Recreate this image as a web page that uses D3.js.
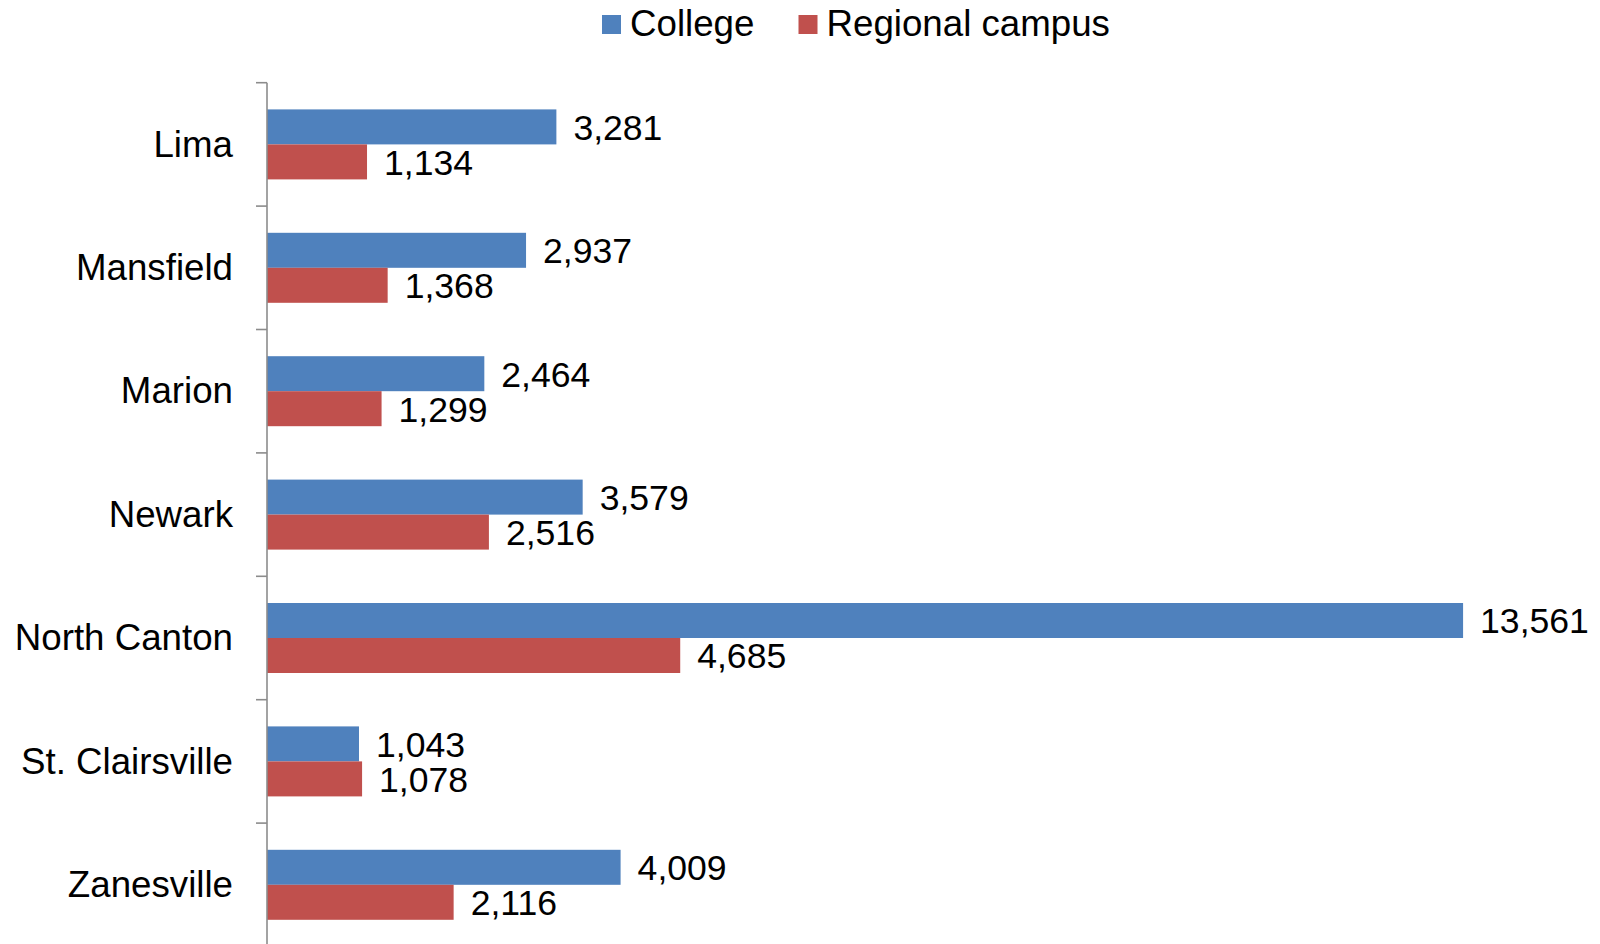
<!DOCTYPE html>
<html>
<head>
<meta charset="utf-8">
<script src="https://cdn.jsdelivr.net/npm/d3@7"></script>
<style>
  html, body { margin: 0; padding: 0; background: #fff; }
  svg { display: block; }
  text { font-family: "Liberation Sans", Arial, sans-serif; fill: #000; }
</style>
</head>
<body>
<svg id="chart" width="1600" height="944"></svg>
<script>
const categories = ["Lima", "Mansfield", "Marion", "Newark", "North Canton", "St. Clairsville", "Zanesville"];
const seriesNames = ["College", "Regional campus"];
const collegeValues = [3281, 2937, 2464, 3579, 13561, 1043, 4009];
const regionalValues = [1134, 1368, 1299, 2516, 4685, 1078, 2116];
const seriesColors = ["#4F81BD", "#C0504D"];

const svg = d3.select("#chart");
const axisX = 267;
const topY = 82.7;
const step = 123.4;

const x = d3.scaleLinear().domain([0, 15000]).range([axisX, axisX + 15000 * 0.0882]);
const y0 = d3.scaleBand().domain(categories).range([topY, topY + step * categories.length]).padding(0);
const y1 = d3.scaleBand().domain(seriesNames).range([0, y0.bandwidth()]).paddingInner(0).paddingOuter(0.763);

const seriesValues = [collegeValues, regionalValues];
const rows = categories.map((c, i) => ({ cat: c, vals: seriesNames.map((s, j) => ({ s, j, v: seriesValues[j][i] })) }));

const groups = svg.append("g").selectAll("g").data(rows).join("g")
  .attr("transform", d => `translate(0,${y0(d.cat)})`);

groups.selectAll("rect").data(d => d.vals).join("rect")
  .attr("x", x(0))
  .attr("y", d => y1(d.s))
  .attr("width", d => x(d.v) - x(0))
  .attr("height", y1.bandwidth())
  .attr("fill", d => seriesColors[d.j]);

groups.selectAll("text.val").data(d => d.vals).join("text")
  .attr("class", "val")
  .attr("x", d => x(d.v) + 17)
  .attr("y", d => y1(d.s) + y1.bandwidth() / 2 + 13)
  .attr("font-size", 35.6)
  .text(d => d3.format(",")(d.v));

// Axis
const axis = d3.axisLeft(y0).tickSize(0).tickPadding(34).tickFormat(d => d);
const axisG = svg.append("g").attr("transform", `translate(${axisX},0)`).call(axis);
axisG.select(".domain").remove();
axisG.selectAll(".tick text")
  .attr("font-size", 36.7)
  .attr("font-family", '"Liberation Sans", Arial, sans-serif')
  .attr("fill", "#000")
  .attr("dy", "0.33em");

svg.append("line")
  .attr("x1", axisX).attr("x2", axisX)
  .attr("y1", topY).attr("y2", topY + step * categories.length)
  .attr("stroke", "#8c8c8c").attr("stroke-width", 1.6);

const tickPositions = d3.range(categories.length + 1).map(i => topY + i * step);
svg.append("g").selectAll("line").data(tickPositions).join("line")
  .attr("x1", axisX - 11).attr("x2", axisX)
  .attr("y1", d => d).attr("y2", d => d)
  .attr("stroke", "#8c8c8c").attr("stroke-width", 1.6);

// Legend
const legendItems = [
  { name: seriesNames[0], color: seriesColors[0], x: 602 },
  { name: seriesNames[1], color: seriesColors[1], x: 798.5 }
];
const lg = svg.append("g").selectAll("g").data(legendItems).join("g")
  .attr("transform", d => `translate(${d.x},0)`);
lg.append("rect").attr("x", 0).attr("y", 15).attr("width", 19).attr("height", 19).attr("fill", d => d.color);
lg.append("text").attr("x", 28).attr("y", 36).attr("font-size", 36.7).text(d => d.name);
</script>
</body>
</html>
